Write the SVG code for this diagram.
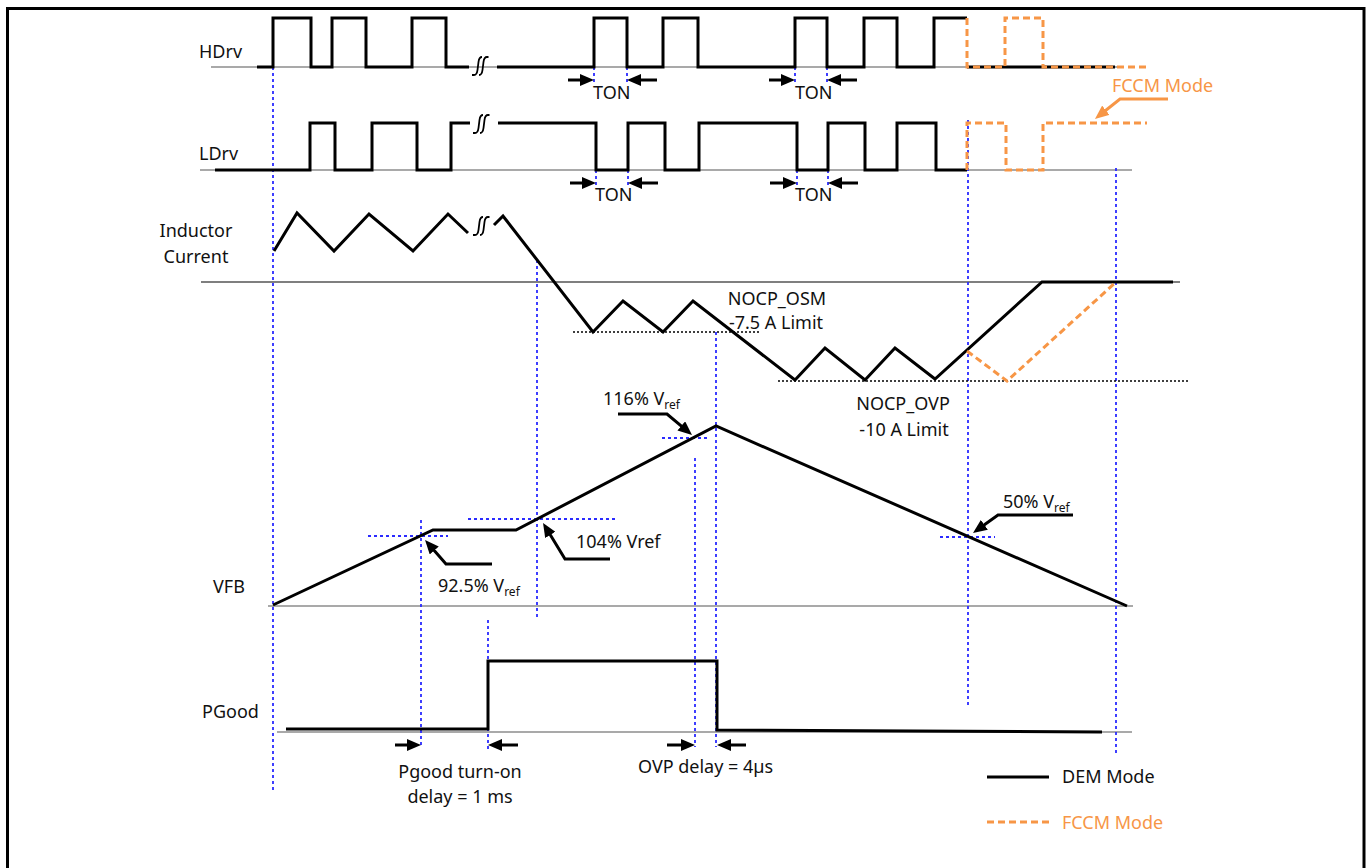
<svg xmlns="http://www.w3.org/2000/svg" xmlns:xlink="http://www.w3.org/1999/xlink" width="1371" height="868" viewBox="0 0 1371 868">
<style>
text{font-family:"Noto Sans","Open Sans","Liberation Sans",sans-serif;font-size:18px;fill:#111}
.or{fill:#F79646}
.sub{font-size:12px}
.wave{fill:none;stroke:#000;stroke-width:3;stroke-linejoin:miter}
.fccm{fill:none;stroke:#F79646;stroke-width:3;stroke-dasharray:7 4}
.base{fill:none;stroke:#555;stroke-width:1.2}
.zero{fill:none;stroke:#000;stroke-width:1.2}
.blue{fill:none;stroke:#2b2bff;stroke-width:1.8;stroke-dasharray:3 3}
.lim{fill:none;stroke:#000;stroke-width:1.5;stroke-dasharray:2 2}
.arr{fill:none;stroke:#000;stroke-width:3;marker-end:url(#ah)}
.oarr{fill:none;stroke:#F79646;stroke-width:3;marker-end:url(#oah)}
.brk{fill:none;stroke:#000;stroke-width:1.8}
</style>
<defs>
<marker id="ah" markerUnits="userSpaceOnUse" markerWidth="14" markerHeight="12" refX="6" refY="6" orient="auto"><path d="M0,0 L14,6 L0,12 z" fill="#000"/></marker>
<marker id="oah" markerUnits="userSpaceOnUse" markerWidth="14" markerHeight="12" refX="6" refY="6" orient="auto"><path d="M0,0 L14,6 L0,12 z" fill="#F79646"/></marker>
<path id="brkp" class="brk" d="M0,18 h2 c2,0 3,-1 3.5,-5 l1,-8 c0.5,-4 1.5,-5 3.5,-5 M7,18 c2,0 3,-1 3.5,-5 l1,-8 c0.5,-4 1.5,-5 3.5,-5 h1.5"/>
</defs>
<rect id="frame" x="7.5" y="8.5" width="1356.5" height="880" fill="none" stroke="#000" stroke-width="3"/>

<g id="baselines">
<line class="base" x1="211" y1="67" x2="1118" y2="67"/>
<line class="base" x1="200" y1="170" x2="1132" y2="170"/>
<line class="zero" x1="201" y1="282" x2="1180" y2="282"/>
<line class="base" x1="268" y1="606" x2="1133" y2="606"/>
<line class="base" x1="277" y1="732" x2="1132" y2="732"/>
</g>

<g id="guides">
<line class="blue" x1="273" y1="67" x2="273" y2="790"/>
<line class="blue" x1="537" y1="260" x2="537" y2="620"/>
<line class="blue" x1="421" y1="520" x2="421" y2="747"/>
<line class="blue" x1="488" y1="620" x2="488" y2="750"/>
<line class="blue" x1="695" y1="458" x2="695" y2="747"/>
<line class="blue" x1="716" y1="332" x2="716" y2="747"/>
<line class="blue" x1="968" y1="120" x2="968" y2="708"/>
<line class="blue" x1="1116" y1="168" x2="1116" y2="755"/>
<line class="blue" x1="594" y1="67" x2="594" y2="82"/>
<line class="blue" x1="627" y1="67" x2="627" y2="82"/>
<line class="blue" x1="795" y1="67" x2="795" y2="82"/>
<line class="blue" x1="827" y1="67" x2="827" y2="82"/>
<line class="blue" x1="596" y1="170" x2="596" y2="185"/>
<line class="blue" x1="628" y1="170" x2="628" y2="185"/>
<line class="blue" x1="797" y1="170" x2="797" y2="185"/>
<line class="blue" x1="828" y1="170" x2="828" y2="185"/>
<line class="blue" x1="368" y1="536" x2="448" y2="536"/>
<line class="blue" x1="468" y1="519" x2="617" y2="519"/>
<line class="blue" x1="662" y1="438" x2="708" y2="438"/>
<line class="blue" x1="940" y1="537" x2="995" y2="537"/>
</g>

<g id="limits">
<line class="lim" x1="573" y1="332" x2="760" y2="332"/>
<line class="lim" x1="778" y1="381" x2="1188" y2="381"/>
</g>

<g id="hdrv">
<text x="199" y="58">HDrv</text>
<path class="wave" d="M257,67 H273 V18 H311 V67 H332 V18 H366 V67 H412 V18 H446 V67 H469"/>
<path class="wave" d="M497,67 H594 V18 H627 V67 H663 V18 H698 V67 H795 V18 H827 V67 H864 V18 H897 V67 H934 V18 H967 M967,67 H1115"/>
<path class="fccm" d="M967,18 V67 H1005 V18 H1043 V67 H1147"/>
<use xlink:href="#brkp" href="#brkp" x="472" y="57"/>
</g>

<g id="ldrv">
<text x="199" y="160">LDrv</text>
<path class="wave" d="M215,170 H310 V123 H335 V170 H372 V123 H417 V170 H451 V123 H470"/>
<path class="wave" d="M498,123 H596 V170 H628 V123 H665 V170 H699 V123 H797 V170 H828 V123 H865 V170 H897 V123 H936 V170 H967"/>
<path class="fccm" d="M967,170 V123 H1006 V170 H1043 V123 H1147"/>
<use xlink:href="#brkp" href="#brkp" x="473" y="115"/>
</g>

<g id="ton">
<path class="arr" d="M568,80 H586"/>
<path class="arr" d="M657,80 H635"/>
<path class="arr" d="M769,80 H787"/>
<path class="arr" d="M857,80 H835"/>
<path class="arr" d="M570,183 H588"/>
<path class="arr" d="M658,183 H636"/>
<path class="arr" d="M770,183 H789"/>
<path class="arr" d="M858,183 H836"/>
<text x="593" y="99">TON</text>
<text x="795" y="99">TON</text>
<text x="595" y="201">TON</text>
<text x="795" y="201">TON</text>
</g>

<g id="fccm-label">
<text class="or" x="1112" y="92">FCCM Mode</text>
<path class="oarr" d="M1168,99 H1120 L1101.2,114"/>
</g>

<g id="inductor">
<text x="196" y="237" text-anchor="middle">Inductor</text>
<text x="196" y="263" text-anchor="middle">Current</text>
<path class="wave" d="M274,251 L297,213 L334,251 L369,214 L413,251 L448,214 L468,233"/>
<path class="wave" d="M494,225 L503,216 L593,332 L623,301 L663,332 L693,301 L795,380 L825,348 L865,380 L895,348 L935,379 L1042,282 H1173"/>
<path class="fccm" d="M967,351 L1007,381 L1115,283"/>
<use xlink:href="#brkp" href="#brkp" x="473" y="217"/>
<text x="777" y="305" text-anchor="middle">NOCP_OSM</text>
<text x="776" y="329" text-anchor="middle">-7.5 A Limit</text>
<text x="903" y="410" text-anchor="middle">NOCP_OVP</text>
<text x="904" y="436" text-anchor="middle">-10 A Limit</text>
</g>

<g id="vfb">
<text x="213" y="593">VFB</text>
<path class="wave" d="M273,605 L433,530 H516 L716,426 L1127,606"/>
<path class="arr" d="M492,564 H446 L430.3,546"/>
<text x="438" y="592">92.5% V<tspan class="sub" dy="4">ref</tspan></text>
<path class="arr" d="M610,559 H565 L547.2,529.8"/>
<text x="576" y="548">104% Vref</text>
<path class="arr" d="M618,414 H667 L685.9,429.8"/>
<text x="603" y="405">116% V<tspan class="sub" dy="4">ref</tspan></text>
<path class="arr" d="M1073,515 H998 L979.5,528.3"/>
<text x="1003" y="508">50% V<tspan class="sub" dy="4">ref</tspan></text>
</g>

<g id="pgood">
<text x="202" y="718">PGood</text>
<path class="wave" d="M286,729 H488 V661 H717 V730 L1102,732"/>
<path class="arr" d="M395,745 H413"/>
<path class="arr" d="M518,745 H496"/>
<path class="arr" d="M667,745 H687"/>
<path class="arr" d="M746,745 H725"/>
<text x="460" y="778" text-anchor="middle">Pgood turn-on</text>
<text x="460" y="803" text-anchor="middle">delay = 1 ms</text>
<text x="638" y="773">OVP delay = 4µs</text>
</g>

<g id="legend">
<line class="wave" x1="987" y1="777" x2="1049" y2="777"/>
<text x="1062" y="783">DEM Mode</text>
<line class="fccm" x1="987" y1="822" x2="1049" y2="822"/>
<text class="or" x="1062" y="829">FCCM Mode</text>
</g>
</svg>
